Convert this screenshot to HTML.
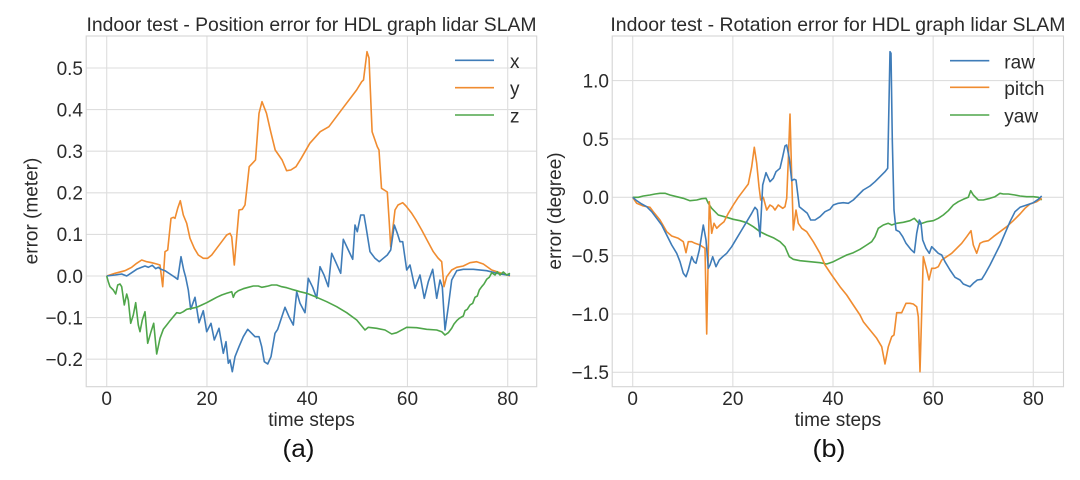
<!DOCTYPE html>
<html><head><meta charset="utf-8"><style>
html,body{margin:0;padding:0;background:#fff;}
svg{display:block;}
text{font-family:"Liberation Sans",Arial,sans-serif;fill:#2b2b2b;}
</style></head><body>
<svg width="1080" height="480" viewBox="0 0 1080 480" xmlns="http://www.w3.org/2000/svg">
<rect width="1080" height="480" fill="#fff"/>
<!-- LEFT CHART -->
<g stroke="#dedede" stroke-width="1.1" fill="none">
<line x1="86.2" y1="68" x2="536.7" y2="68"/><line x1="86.2" y1="109.6" x2="536.7" y2="109.6"/><line x1="86.2" y1="151.2" x2="536.7" y2="151.2"/><line x1="86.2" y1="192.8" x2="536.7" y2="192.8"/><line x1="86.2" y1="234.4" x2="536.7" y2="234.4"/><line x1="86.2" y1="276" x2="536.7" y2="276"/><line x1="86.2" y1="317.6" x2="536.7" y2="317.6"/><line x1="86.2" y1="359.2" x2="536.7" y2="359.2"/>
<line x1="106.7" y1="36" x2="106.7" y2="386.7"/><line x1="206.95" y1="36" x2="206.95" y2="386.7"/><line x1="307.2" y1="36" x2="307.2" y2="386.7"/><line x1="407.45" y1="36" x2="407.45" y2="386.7"/><line x1="507.7" y1="36" x2="507.7" y2="386.7"/>
<rect x="86.2" y="36" width="450.5" height="350.7" stroke="#d4d4d4"/>
</g>
<g fill="none" stroke-width="1.6" stroke-linejoin="round">
<polyline stroke="#f08c30" points="106.7,276 115,273.3 125,270.7 131.7,267.3 136.7,263.3 141.7,260 146.7,261.7 151.7,262.7 156.7,264 160,265 162.7,286.7 165,251.7 167.7,250 171,218.3 173.3,217.3 175,218.3 177.7,208.3 180.3,200.7 183.3,215 186.7,223.3 190,238.3 194.3,248.3 198.3,255 203.3,258.3 207.7,258.3 211.7,255 216.7,248.3 221.7,241.7 226.7,235 230,233.3 231.7,236.7 234.3,265 236.7,236.7 239,210 242.3,209.3 245,205 246.7,190 249.2,166.7 255.5,160 259,113.3 262,101.7 266.5,113.3 270.7,131.7 275.2,150 282.1,160 286.6,170.7 290.8,170 296,166.7 301.2,158.3 309.8,143.3 320.2,131.7 328.9,126.7 342.7,108.3 356.6,90 361.7,81.7 363.5,80 367,51.7 369,58 372.1,131.7 377.3,146.7 379,150 381.5,188.3 387.3,192 389.3,223 390.7,246.7 395,210 398,205 402.7,202.7 406,206 411.7,213.3 416,220 421.7,230 427,240 433.3,251.7 438,258 441.7,261.7 444,286.7 446.7,276.7 451.7,270 456.7,267.3 463.3,266 470,262.7 476.7,261.7 483.3,264 491.7,270 500,272.7 510,276"/>
<polyline stroke="#3f7cb8" points="106.7,276 115,275 121.7,274 126.7,276 131.7,272.7 136.7,269.3 141.7,267.3 145,266 148.3,267.3 152.3,265.3 155.7,268.7 158.3,267.3 161,269.3 165,270.7 170,274 175,277.3 177.7,279.3 181,256.7 183.7,270 185.7,277.3 188.3,290 190.7,309.3 195,297.3 199,322.7 203.3,310.7 206.7,331.7 211,323.3 214.3,340 219,328.3 223.3,353.3 226,341.7 228.3,363.3 230,360 232.3,371.7 235,356.7 239,346.7 243.3,336.7 247.7,329.3 251.7,333.3 255,336.7 259,336.7 261.7,346.7 264.3,361.7 267.7,364 271,356.7 275,333.3 277.7,329.3 285,307.3 289,316.7 293.3,325 296.7,291.7 300,303.3 305,312.7 308.3,278.3 312.7,287.3 316.7,298.3 320,266.7 324,275 328.3,286.7 331.7,253.3 336,262.7 340.7,273.3 343.3,239.3 348.3,250 352.7,259.3 355,225 357.3,231.7 360.7,215 364,215 366,226.7 370,251.7 375,258.3 379.3,261.7 383.3,258.3 387.3,255 390.7,250 394.3,225 397.3,233.3 400,241.7 402.7,241.7 406.7,270 410,265 415,288.3 420,275 424.3,298.3 428.3,281.7 432.7,269.3 436.7,298.3 440,280 442.3,286.7 445,330 448.3,306.7 451.7,280 456.7,270.7 463.3,269.3 473.3,269.3 486.7,270.7 500,274 510,275.3"/>
<polyline stroke="#4fa64a" points="106.7,276 108.3,281.7 110,286.7 113.3,290 115.7,294 117.7,285 120,284 121.7,286.7 124.3,305 126.7,294 128.3,300 130.7,323.3 133.3,315 135.7,302.7 138.3,325 140,331.7 142.3,320 145,311.7 147.7,343.3 151,331.7 153.7,323.3 156.7,354 160,338.3 163.3,329.3 166.7,325 170,320.7 173.3,316.7 176.7,312.7 180,313.3 183.3,311.7 186.7,309.3 191.7,308.3 196.7,307.3 201.7,305 206.7,302.7 211.7,300 216.7,297.3 221.7,295 226.7,293.3 231.7,291.7 233.3,297.3 235,293.3 238.3,290.7 243.3,288.7 248.3,287.3 253.3,286 258.3,286 261.7,287.3 265,286.7 268.3,286 271.7,285 276.7,285 281.7,286.7 286.7,287.7 291.7,289.3 296.7,290.7 300,291.7 306.7,293.3 316.7,297.3 326.7,301.7 336.7,306.7 346.7,312.7 356.7,320 361.7,326 365,330 368.3,327.3 376.7,328.3 385,330 391.7,334 396.7,332.7 406.7,327.3 416.7,327.7 426.7,329.3 436.7,330 441.7,331.7 445,335 448.3,332.7 451.7,328.3 454,324 456.7,320.7 459.3,318.3 463.3,316 465,310.7 467.3,309.3 470,305 472.7,303.3 475,297.3 477.3,296 479.3,290 481.7,286.7 484,284 486.7,279.3 489.3,277.3 491.7,272.7 495,275 497.3,271.7 500,275 503.3,272 506.7,275 510,273.3"/>
</g>
<g font-size="19">
<text x="311.5" y="31" text-anchor="middle" font-size="19.4" textLength="450" lengthAdjust="spacingAndGlyphs">Indoor test - Position error for HDL graph lidar SLAM</text>
<g text-anchor="end">
<text x="83" y="74.8">0.5</text><text x="83" y="116.4">0.4</text><text x="83" y="158">0.3</text><text x="83" y="199.6">0.2</text><text x="83" y="241.2">0.1</text><text x="83" y="282.8">0.0</text><text x="83" y="324.4">−0.1</text><text x="83" y="366">−0.2</text>
</g>
<g text-anchor="middle">
<text x="106.7" y="405">0</text><text x="206.95" y="405">20</text><text x="307.2" y="405">40</text><text x="407.45" y="405">60</text><text x="507.7" y="405">80</text>
<text x="311.5" y="426">time steps</text>
<text transform="translate(37.5,211) rotate(-90)">error (meter)</text>
</g>
</g>
<g stroke-width="1.6">
<line x1="455" y1="60.3" x2="494" y2="60.3" stroke="#3f7cb8"/>
<line x1="455" y1="87.7" x2="494" y2="87.7" stroke="#f08c30"/>
<line x1="455" y1="115" x2="494" y2="115" stroke="#4fa64a"/>
</g>
<g font-size="19">
<text x="510" y="68">x</text><text x="510" y="95">y</text><text x="510" y="122.5">z</text>
</g>
<text x="298.5" y="457" text-anchor="middle" font-size="25" style="fill:#111" textLength="32" lengthAdjust="spacingAndGlyphs">(a)</text>

<!-- RIGHT CHART -->
<g stroke="#dedede" stroke-width="1.1" fill="none">
<line x1="612.2" y1="80.6" x2="1063.5" y2="80.6"/><line x1="612.2" y1="138.95" x2="1063.5" y2="138.95"/><line x1="612.2" y1="197.3" x2="1063.5" y2="197.3"/><line x1="612.2" y1="255.65" x2="1063.5" y2="255.65"/><line x1="612.2" y1="314" x2="1063.5" y2="314"/><line x1="612.2" y1="372.35" x2="1063.5" y2="372.35"/>
<line x1="632.7" y1="36" x2="632.7" y2="386.7"/><line x1="732.85" y1="36" x2="732.85" y2="386.7"/><line x1="833" y1="36" x2="833" y2="386.7"/><line x1="933.15" y1="36" x2="933.15" y2="386.7"/><line x1="1033.3" y1="36" x2="1033.3" y2="386.7"/>
<rect x="612.2" y="36" width="451.3" height="350.7" stroke="#d4d4d4"/>
</g>
<g fill="none" stroke-width="1.6" stroke-linejoin="round">
<polyline stroke="#4fa64a" points="632.7,197.3 638.3,197.3 643.3,196 650,195 655,194 660,193.3 665,193.3 670,195 676.7,196.7 683.3,198.3 690,200.7 696.7,200 701.7,198.7 706,198.3 708.3,203.3 711.7,208.3 718.3,215 726.7,217.3 733.3,219.3 740,220.7 746.7,222.7 753.3,226.7 760,231.7 766.7,235 773.3,237.7 780,241.7 785,246.7 789.3,256.7 793.3,259.3 800,260.7 810,261.7 820,262.7 826.7,264 833.3,261.7 840,258.3 846.7,255 853.3,252.7 860,249.3 866.7,245 871.7,241.7 875,236.7 878.3,228.3 883.3,225 888.3,223.3 891.7,225 896.7,223.3 903.3,222.3 910,220.7 914.3,218.3 918.3,222.7 920,224 926.7,221.7 933.3,220.7 938.3,218.3 943.3,215 948.3,210.7 953.3,205 958.3,201.7 963.3,199.3 968.3,197.3 970.7,190.7 973.3,195 978.3,200 983.3,200 990,198.3 995,196.7 1000,193.3 1003.3,194 1008.3,194 1015,195 1020,196 1026.7,196.7 1033.3,196.7 1038.3,197.3 1041.7,200"/>
<polyline stroke="#f08c30" points="632.7,197.3 636.7,203.3 643.3,206 650,207.3 653.3,211.7 660,220 666.7,231.7 671.7,236 678.3,238.3 683.3,241.7 686,252.7 688.3,241.7 691.7,241.7 695,243.3 700,245 705,248.3 706.7,334 709.3,201.7 711.7,233.3 714,223.3 716.7,228.3 720,225 724,221.7 728.3,213.3 733.3,205 738.3,197.3 743.3,190.7 748.3,184 751.7,166.7 754.3,147.3 756.7,163.3 759,186.7 760.7,200 763.3,197.3 766.7,210 770,205 772.7,206.7 775,210 778.3,205 782.7,208.3 785,206.7 786.7,198.3 788.3,160 790,114 791.7,176.7 793.3,230 796,210 798.3,223.3 801.7,228.3 806.7,231.7 813.3,241.7 820,253.3 825,265 831.7,275 840,286.7 846.7,295 853.3,305 860,315 863.3,321.7 870,330 876.7,338.3 881.7,346.7 885,364 888.3,346.7 891.7,336.7 894,335 896.7,312.7 901.7,312.7 906,303.3 910,303.3 913.3,304 916.7,306.7 918.3,316.7 920,371.7 923.3,256.7 926.7,270 929,280 931.7,268.3 935,268.3 938.3,266.7 941.7,260 946.7,256.7 951.7,253.3 956.7,248.3 961.7,243.3 966.7,236.7 971,230.7 973.3,245 976.7,253.3 980,243.3 983.3,241.7 988.3,240.7 993.3,236.7 1000,231.7 1006.7,226.7 1013.3,220.7 1020,214 1025,208.3 1030,204 1036.7,201.7 1041.7,198.3"/>
<polyline stroke="#3f7cb8" points="632.7,197.3 636.7,200.7 641.7,204 646.7,206.7 651.7,211.7 656.7,218.3 661.7,225 666.7,235 671.7,245 676.7,253.3 680,261.7 683.3,273.3 686,276.7 688.3,270 691.7,256.7 694,261.7 696,263.3 699.3,250 703.3,225 706,240 708.3,268.3 710,265 712.7,256.7 716,266.7 719.3,260 722.7,256.7 726.7,253.3 731.7,246.7 736.7,238.3 741.7,230 746.7,221.7 751.7,213.3 755,207.3 757.3,210 760,236.7 762.7,185 766,172.7 770,181.7 773.3,178.3 776,171.7 780,168.3 782.7,156.7 785,146 786.7,145 789.3,158.3 791.7,180.7 794,179.3 796,180 799.3,206.7 803.3,210 807.3,213.3 810.7,220 815,220 820,216.7 825,211.7 830,209.3 833.3,205 838.3,203.3 843.3,202.7 848.3,203.3 853.3,200 858.3,195 863.3,190 870,186 875,181.7 880,176.7 885,171.7 887.7,168.3 890,51.7 891,53.3 892.3,140 894,210 896,230 899.3,231.7 902.7,236.7 906,243.3 910.7,249.3 914.3,252.7 916.7,233.3 919.3,220 921,223.3 922.7,240 926,248.3 929.3,253.3 931.7,246.7 935,250 938.3,253.3 941.7,255 945,261.7 950,270 955,277.3 960,280 963.3,284 970,286.7 973.3,283.3 977.3,280 981.7,279.3 985,274 990,265 995,255 1000,245 1005,233.3 1010,221.7 1015,211.7 1020,207.3 1026.7,205 1033.3,202.7 1038.3,199.3 1041.7,196"/>
</g>
<g font-size="19">
<text x="837.9" y="31" text-anchor="middle" font-size="19.4" textLength="455" lengthAdjust="spacingAndGlyphs">Indoor test - Rotation error for HDL graph lidar SLAM</text>
<g text-anchor="end">
<text x="609" y="87.4">1.0</text><text x="609" y="145.8">0.5</text><text x="609" y="204.1">0.0</text><text x="609" y="262.5">−0.5</text><text x="609" y="320.8">−1.0</text><text x="609" y="379.2">−1.5</text>
</g>
<g text-anchor="middle">
<text x="632.7" y="405">0</text><text x="732.85" y="405">20</text><text x="833" y="405">40</text><text x="933.15" y="405">60</text><text x="1033.3" y="405">80</text>
<text x="837.9" y="426">time steps</text>
<text transform="translate(561,211) rotate(-90)">error (degree)</text>
</g>
</g>
<g stroke-width="1.6">
<line x1="950" y1="60.7" x2="989.3" y2="60.7" stroke="#3f7cb8"/>
<line x1="950" y1="87.3" x2="989.3" y2="87.3" stroke="#f08c30"/>
<line x1="950" y1="115" x2="989.3" y2="115" stroke="#4fa64a"/>
</g>
<g font-size="19">
<text x="1004.3" y="68.3">raw</text><text x="1004.3" y="95">pitch</text><text x="1004.3" y="122.5">yaw</text>
</g>
<text x="829" y="457" text-anchor="middle" font-size="25" style="fill:#111" textLength="33" lengthAdjust="spacingAndGlyphs">(b)</text>
</svg>
</body></html>
